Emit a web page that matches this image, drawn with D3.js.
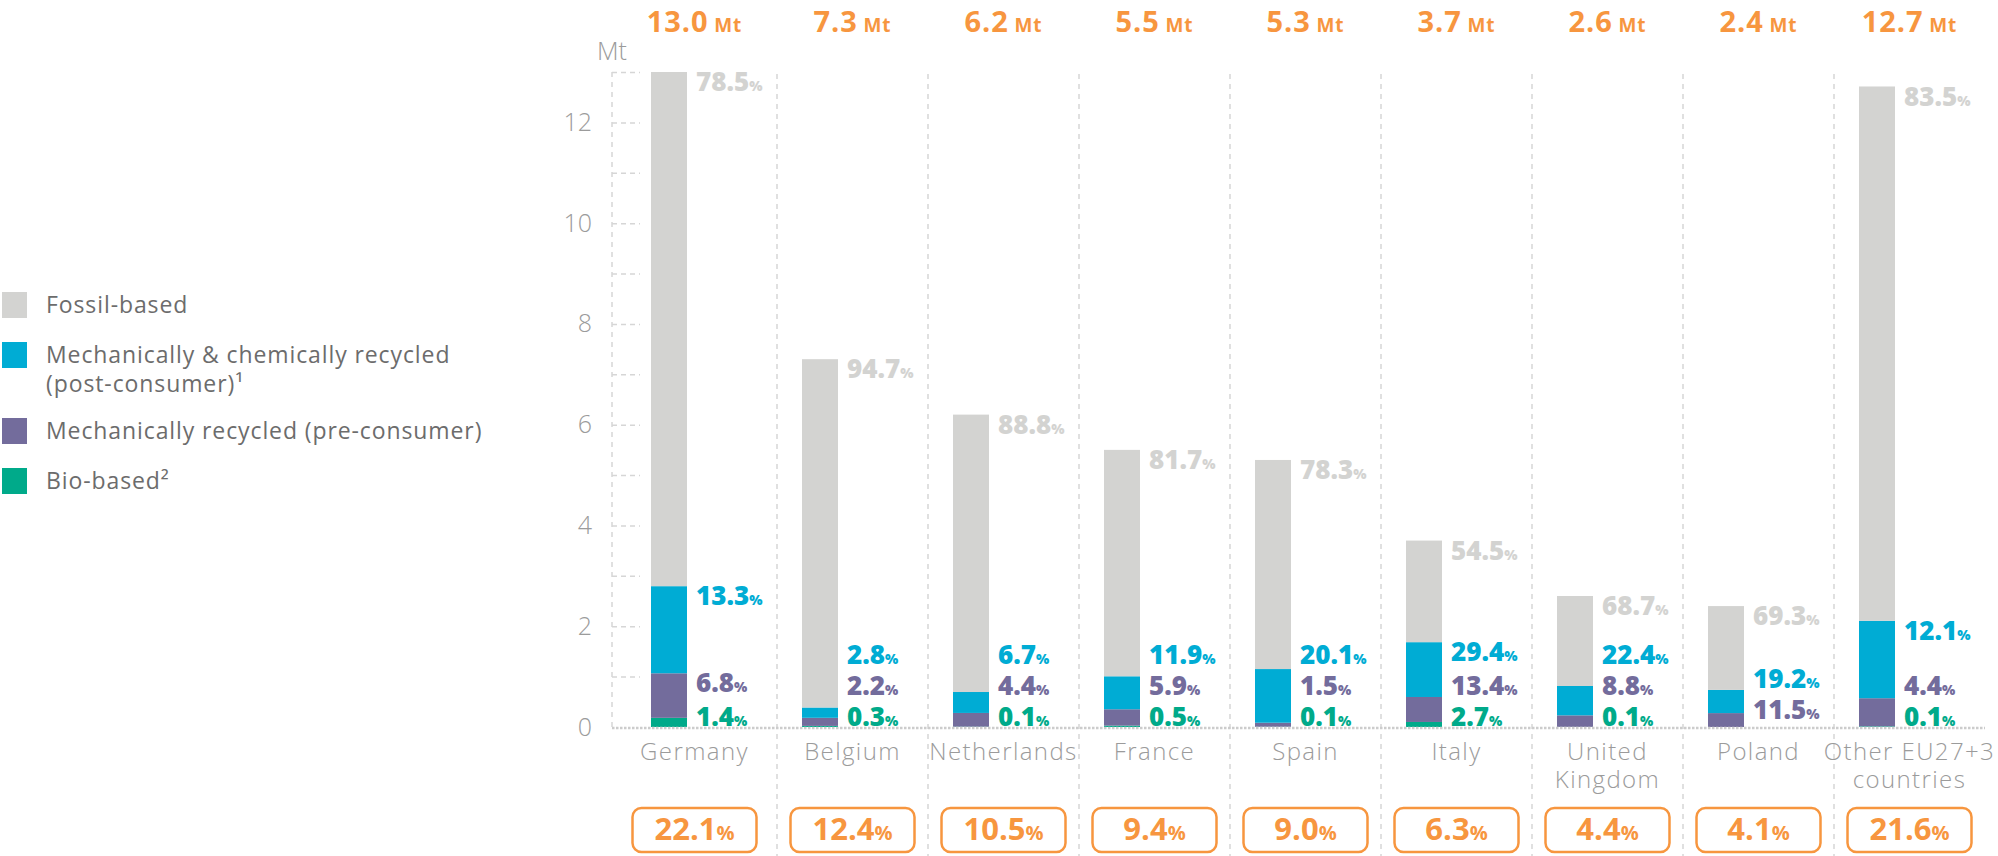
<!DOCTYPE html>
<html>
<head>
<meta charset="utf-8">
<script src="https://cdn.jsdelivr.net/npm/d3@7"></script>
<style>
  body { margin: 0; background: #fff; }
  text { font-family: "Open Sans", "Noto Sans", sans-serif; }
</style>
</head>
<body>
<script>
// chart data
const countries = ["Germany", "Belgium", "Netherlands", "France", "Spain", "Italy", "United\nKingdom", "Poland", "Other EU27+3\ncountries"];
const totals = [13.0, 7.3, 6.2, 5.5, 5.3, 3.7, 2.6, 2.4, 12.7];
const fossil = [78.5, 94.7, 88.8, 81.7, 78.3, 54.5, 68.7, 69.3, 83.5];
const postConsumer = [13.3, 2.8, 6.7, 11.9, 20.1, 29.4, 22.4, 19.2, 12.1];
const preConsumer = [6.8, 2.2, 4.4, 5.9, 1.5, 13.4, 8.8, 11.5, 4.4];
const bioBased = [1.4, 0.3, 0.1, 0.5, 0.1, 2.7, 0.1, null, 0.1];
const shares = [22.1, 12.4, 10.5, 9.4, 9.0, 6.3, 4.4, 4.1, 21.6];
const yTicks = [0, 2, 4, 6, 8, 10, 12];
const legendLabels = ["Fossil-based", "Mechanically & chemically recycled\n(post-consumer)¹", "Mechanically recycled (pre-consumer)", "Bio-based²"];

const colors = { fossil: "#d3d3d1", post: "#00acd4", pre: "#736c9c", bio: "#00aa8a" };
const orange = "#f7963f";
const grey = "#9b9b9b";

const svg = d3.select("body")
				.append("svg")
				.attr("width", 1998)
				.attr("height", 856);

const axisX = 612;
const x = d3.scaleBand().domain(countries).range([626, 1985]);
const y = d3.scaleLinear().domain([0, 13]).range([727, 72]);
const barW = 36, barOff = 25;

// middle of the space between two separators (first column starts at the axis)
const colMid = (d, i) => i === 0 ? (axisX + x(d) + x.bandwidth()) / 2 : x(d) + x.bandwidth() / 2;

// rows in Mt, stacked bottom -> top
const rows = countries.map((c, i) => ({
	country: c,
	bio: (bioBased[i] || 0) * totals[i] / 100,
	pre: preConsumer[i] * totals[i] / 100,
	post: postConsumer[i] * totals[i] / 100,
	fossil: fossil[i] * totals[i] / 100
}));
const keys = ["bio", "pre", "post", "fossil"];
const series = d3.stack().keys(keys)(rows);

// column separators
svg.append("g")
	.selectAll("line")
	.data(countries.slice(1))
	.enter()
	.append("line")
	.attr("x1", d => x(d))
	.attr("x2", d => x(d))
	.attr("y1", 74)
	.attr("y2", 856)
	.attr("stroke", "#d6d6d6")
	.attr("stroke-width", 1.5)
	.attr("stroke-dasharray", "5,5");

// y axis line and short dashed ticks
svg.append("line")
	.attr("x1", axisX).attr("x2", axisX)
	.attr("y1", y(13)).attr("y2", y(0))
	.attr("stroke", "#d6d6d6")
	.attr("stroke-width", 1.5)
	.attr("stroke-dasharray", "5,5");

const grid = svg.append("g")
	.attr("transform", "translate(" + axisX + ",0)")
	.call(d3.axisRight(y).tickValues(d3.range(1, 14)).tickSize(28).tickFormat(""));
grid.select(".domain").remove();
grid.selectAll("line")
	.attr("stroke", "#d6d6d6")
	.attr("stroke-width", 1.5)
	.attr("stroke-dasharray", "5,4");

const yAxis = svg.append("g")
	.attr("transform", "translate(" + axisX + ",0)")
	.call(d3.axisLeft(y).tickValues(yTicks).tickSize(0).tickPadding(20));
yAxis.select(".domain").remove();
yAxis.selectAll("text")
	.attr("font-family", "Open Sans")
	.attr("font-size", 25)
	.attr("font-weight", 300)
	.attr("fill", grey);

svg.append("text")
	.attr("x", axisX)
	.attr("y", 60)
	.attr("text-anchor", "middle")
	.attr("font-size", 25)
	.attr("font-weight", 300)
	.attr("fill", grey)
	.text("Mt");

// bars
svg.append("g")
	.selectAll("g")
	.data(series)
	.enter()
	.append("g")
	.attr("fill", d => colors[d.key])
	.selectAll("rect")
	.data(d => d)
	.enter()
	.append("rect")
	.attr("x", d => x(d.data.country) + barOff)
	.attr("width", barW)
	.attr("y", d => y(d[1]))
	.attr("height", d => y(d[0]) - y(d[1]));

// zero line
svg.append("line")
	.attr("x1", axisX).attr("x2", 1985)
	.attr("y1", y(0) + 1).attr("y2", y(0) + 1)
	.attr("stroke", "#cccccc")
	.attr("stroke-width", 2.5)
	.attr("stroke-dasharray", "2.5,1.5");

// percentage labels
function pctLabel(g, xx, yy, val, color) {
	const t = g.append("text")
		.attr("x", xx)
		.attr("y", yy)
		.attr("fill", color)
		.attr("font-weight", 800);
	t.append("tspan").attr("font-size", 26).text(val.toFixed(1));
	t.append("tspan").attr("font-size", 14).text("%");
}

const lab = svg.append("g");
rows.forEach((r, i) => {
	const lx = x(r.country) + barOff + barW + 9;
	let yb = y(0) - 1;
	if (bioBased[i] != null) {
		pctLabel(lab, lx, yb, bioBased[i], colors.bio);
		yb = Math.min(yb - 31, y(r.bio + r.pre) + 19);
	} else {
		yb = Math.min(yb - 7, y(r.bio + r.pre) + 19);
	}
	pctLabel(lab, lx, yb, preConsumer[i], colors.pre);
	yb = Math.min(yb - 31, y(r.bio + r.pre + r.post) + 19);
	pctLabel(lab, lx, yb, postConsumer[i], colors.post);
	pctLabel(lab, lx, y(totals[i]) + 19, fossil[i], colors.fossil);
});

// totals on top
const totalLabels = svg.append("g")
	.selectAll("text")
	.data(countries)
	.enter()
	.append("text")
	.attr("x", colMid)
	.attr("y", 32)
	.attr("text-anchor", "middle")
	.attr("fill", orange)
	.attr("font-weight", 700)
	.attr("letter-spacing", 0.9);
totalLabels.append("tspan").attr("font-size", 29).text((d, i) => totals[i].toFixed(1));
totalLabels.append("tspan").attr("font-size", 19).text(" Mt");

// category labels
svg.append("g")
	.selectAll("text")
	.data(countries)
	.enter()
	.append("text")
	.attr("text-anchor", "middle")
	.attr("font-size", 24)
	.attr("font-weight", 300)
	.attr("letter-spacing", 1.4)
	.attr("fill", grey)
	.each(function(d, i) {
		d.split("\n").forEach((line, j) => {
			d3.select(this).append("tspan")
				.attr("x", colMid(d, i))
				.attr("y", 760 + j * 28)
				.text(line);
		});
	});

// share boxes
const box = svg.append("g")
	.selectAll("g")
	.data(countries)
	.enter()
	.append("g")
	.attr("transform", (d, i) => "translate(" + colMid(d, i) + ",0)");
box.append("rect")
	.attr("x", -62)
	.attr("y", 808)
	.attr("width", 124)
	.attr("height", 44)
	.attr("rx", 9)
	.attr("fill", "#fff")
	.attr("stroke", orange)
	.attr("stroke-width", 2.5);
const bt = box.append("text")
	.attr("y", 840)
	.attr("text-anchor", "middle")
	.attr("fill", orange)
	.attr("font-weight", 700);
bt.append("tspan").attr("font-size", 31).text((d, i) => shares[i].toFixed(1));
bt.append("tspan").attr("font-size", 20).text("%");

// legend
const legendColors = [colors.fossil, colors.post, colors.pre, colors.bio];
const legendY = [292, 342, 418, 468];
const lg = svg.append("g")
	.selectAll("g")
	.data(legendLabels)
	.enter()
	.append("g")
	.attr("transform", (d, i) => "translate(2," + legendY[i] + ")");
lg.append("rect")
	.attr("width", 25)
	.attr("height", 26)
	.attr("fill", (d, i) => legendColors[i]);
lg.append("text")
	.attr("font-size", 23)
	.attr("letter-spacing", 0.9)
	.attr("fill", "#6c6c6c")
	.each(function(d) {
		d.split("\n").forEach((line, j) => {
			d3.select(this).append("tspan")
				.attr("x", 44)
				.attr("y", 21 + j * 29)
				.text(line);
		});
	});
</script>
</body>
</html>
